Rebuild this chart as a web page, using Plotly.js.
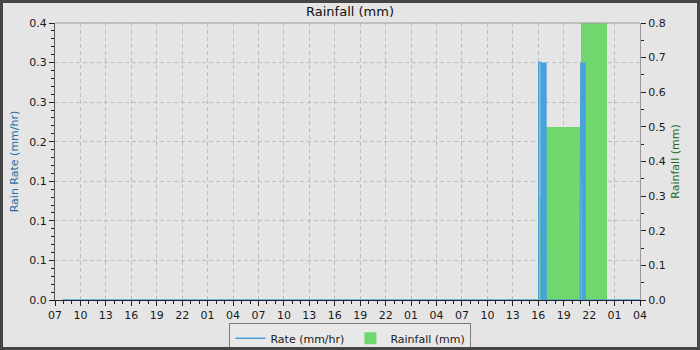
<!DOCTYPE html>
<html>
<head>
<meta charset="utf-8">
<script src="https://cdn.plot.ly/plotly-3.0.1.min.js"></script>
<style>
  html, body { margin: 0; padding: 0; background: #e5e5e5; }
  #wrap { position: relative; width: 700px; height: 350px; }
  #chart { width: 700px; height: 350px; }
  #frame { position: absolute; left: 0; top: 0; width: 700px; height: 350px; box-sizing: border-box; border: 3px solid #454545; pointer-events: none; }
</style>
</head>
<body>
<div id="wrap"><div id="chart"></div><div id="frame"></div></div>
<script>
// ---- data ----
var rateTimes = [
  '2024-05-10 07:50', '2024-05-12 16:04', '2024-05-12 16:04', '2024-05-12 16:19',
  '2024-05-12 16:21', '2024-05-12 16:23', '2024-05-12 16:25', '2024-05-12 16:27',
  '2024-05-12 16:29', '2024-05-12 16:31', '2024-05-12 16:33', '2024-05-12 16:35',
  '2024-05-12 16:37', '2024-05-12 16:39', '2024-05-12 16:41', '2024-05-12 16:43',
  '2024-05-12 16:45', '2024-05-12 16:47', '2024-05-12 16:49', '2024-05-12 16:51',
  '2024-05-12 16:53', '2024-05-12 16:54', '2024-05-12 16:55',
  '2024-05-12 20:58', '2024-05-12 20:58', '2024-05-12 21:01', '2024-05-12 21:02',
  '2024-05-12 21:04', '2024-05-12 21:06', '2024-05-12 21:08', '2024-05-12 21:10',
  '2024-05-12 21:12', '2024-05-12 21:14', '2024-05-12 21:16', '2024-05-12 21:18',
  '2024-05-12 21:20', '2024-05-12 21:22', '2024-05-12 21:24', '2024-05-12 21:26',
  '2024-05-12 21:28', '2024-05-12 21:30', '2024-05-12 21:31', '2024-05-13 04:00'
];
var rateValues = [
  0, 0, 0.3, 0.3,
  0, 0.3, 0, 0.3,
  0, 0.3, 0, 0.3,
  0, 0.3, 0, 0.3,
  0, 0.3, 0, 0.3,
  0, 0.3, 0,
  0, 0.15, 0.15, 0.3,
  0.15, 0.3, 0.15, 0.3,
  0.15, 0.3, 0, 0.3,
  0, 0.3, 0, 0.3,
  0, 0.3, 0, 0
];
var rainStart = ['2024-05-12 16:10', '2024-05-12 16:55', '2024-05-12 21:00'];
var rainEnd   = ['2024-05-12 16:19', '2024-05-12 21:00', '2024-05-13 00:07'];
var rainValues = [0.3, 0.5, 0.8];

var rateTickVals = [0, 0.05, 0.1, 0.15, 0.2, 0.25, 0.3, 0.35];
var rateTickText = ['0.0', '0.1', '0.1', '0.1', '0.2', '0.3', '0.3', '0.4'];
var xStart = '2024-05-10 07:00';
var xEnd = '2024-05-13 04:00';

// ---- build bars from intervals ----
function ms(s) { return new Date(s.replace(' ', 'T') + ':00Z').getTime(); }
function iso(t) { return new Date(t).toISOString().replace('T', ' ').slice(0, 19); }
var rainCenters = [], rainWidths = [];
for (var i = 0; i < rainStart.length; i++) {
  var a = ms(rainStart[i]), b = ms(rainEnd[i]);
  rainCenters.push(iso((a + b) / 2));
  rainWidths.push(b - a);
}

var font = 'DejaVu Sans, sans-serif';
var data = [
  {
    type: 'scatter', mode: 'lines', name: 'Rate (mm/hr)',
    x: rateTimes, y: rateValues, yaxis: 'y2',
    line: { color: '#4aa3d8', width: 1.6 }
  },
  {
    type: 'bar', name: 'Rainfall (mm)',
    x: rainCenters, y: rainValues, width: rainWidths, yaxis: 'y',
    marker: { color: '#70d66e', line: { width: 0 } }
  }
];

var layout = {
  width: 700, height: 350,
  paper_bgcolor: '#e5e5e5', plot_bgcolor: '#e5e5e5',
  margin: { l: 55, r: 60, t: 23, b: 50, autoexpand: false },
  font: { family: font, size: 11, color: '#1a1a1a' },
  title: { text: 'Rainfall (mm)', font: { family: font, size: 13, color: '#111' },
           x: 0.5, xanchor: 'center', y: 0.968, yanchor: 'middle' },
  showlegend: true,
  legend: { orientation: 'h', x: 0.505, xanchor: 'center', y: -0.082, yanchor: 'top',
            bgcolor: '#e8e8e8', bordercolor: '#7a7a7a', borderwidth: 1,
            entrywidth: 75, entrywidthmode: 'pixels',
            font: { family: font, size: 11, color: '#1a1a1a' } },
  bargap: 0,
  xaxis: {
    type: 'date', range: [xStart, xEnd],
    tick0: xStart, dtick: 3 * 3600000, tickformat: '%H',
    ticks: 'outside', ticklen: 5, tickcolor: '#222',
    showline: true, linecolor: '#222', linewidth: 1,
    showgrid: true, gridcolor: '#bdbdbd', griddash: '4px,3px', gridwidth: 1,
    zeroline: false,
    minor: { dtick: 3600000, tick0: xStart, ticks: 'outside', ticklen: 3, tickcolor: '#222', showgrid: false },
    tickfont: { family: font, size: 11, color: '#1a1a1a' }
  },
  yaxis: {
    side: 'right', range: [0, 0.8], dtick: 0.1, tick0: 0, tickformat: '.1f',
    ticks: 'outside', ticklen: 5, tickcolor: '#222',
    showline: true, linecolor: '#999', linewidth: 1,
    showgrid: false, zeroline: false,
    minor: { dtick: 0.05, tick0: 0, ticks: 'outside', ticklen: 3, tickcolor: '#222', showgrid: false },
    title: { text: 'Rainfall (mm)', font: { family: font, size: 11, color: '#1f6a1f' }, standoff: 6 },
    tickfont: { family: font, size: 11, color: '#1a1a1a' }
  },
  yaxis2: {
    overlaying: 'y', side: 'left', range: [0, 0.35],
    tickmode: 'array', tickvals: rateTickVals, ticktext: rateTickText,
    ticks: 'outside', ticklen: 5, tickcolor: '#222',
    showline: true, linecolor: '#555', linewidth: 1,
    showgrid: true, gridcolor: '#bdbdbd', griddash: '4px,3px', gridwidth: 1,
    zeroline: false,
    minor: { tickmode: 'linear', dtick: 0.01, tick0: 0, ticks: 'outside', ticklen: 3, tickcolor: '#222', showgrid: false },
    title: { text: 'Rain Rate (mm/hr)', font: { family: font, size: 11, color: '#1f6fa6' }, standoff: 8 },
    tickfont: { family: font, size: 11, color: '#1a1a1a' }
  },
  shapes: [
    { type: 'line', xref: 'paper', yref: 'paper', x0: 0, x1: 1, y0: 1, y1: 1,
      line: { color: '#999', width: 1 } }
  ]
};

Plotly.newPlot('chart', data, layout, { staticPlot: true, displayModeBar: false });
</script>
</body>
</html>
